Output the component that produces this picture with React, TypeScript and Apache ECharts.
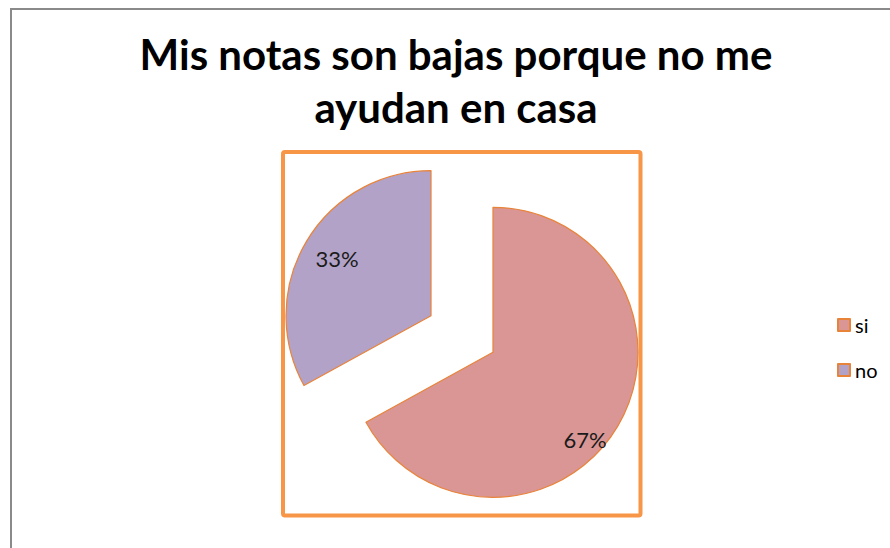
import React, { useEffect, useRef } from "react";
import * as echarts from "echarts";

const TITLE = "Mis notas son bajas porque no me\nayudan en casa";
const categories = ["si", "no"];
const values = [67, 33];
const colors = ["#D99694", "#B3A2C7"];
// label nudges (px) relative to default inside position
const labelNudges = [
  [27, 49],
  [-29, -19],
];

export default function App() {
  const ref = useRef<HTMLDivElement>(null);
  useEffect(() => {
    document.body.style.margin = "0";
    const chart = echarts.init(ref.current!, null, { renderer: "svg" });
    chart.setOption({
      animation: false,
      backgroundColor: "#ffffff",
      title: {
        text: TITLE,
        left: 456,
        textAlign: "center",
        top: 27,
        padding: 0,
        textStyle: {
          fontFamily: "Lato",
          fontWeight: "bold",
          fontSize: 42,
          lineHeight: 53,
          color: "#000000",
        },
      },
      legend: {
        orient: "vertical",
        left: 832,
        top: 310,
        itemWidth: 12,
        itemHeight: 12,
        itemGap: 25,
        icon: "rect",
        textStyle: { fontFamily: "Lato", fontSize: 20, color: "#000000" },
        data: categories,
      },
      graphic: [
        {
          type: "rect",
          shape: { x: 11, y: 9, width: 900, height: 560 },
          style: { fill: "none", stroke: "#8a8a8a", lineWidth: 2 },
          silent: true,
        },
        {
          type: "rect",
          shape: { x: 283, y: 152, width: 357.5, height: 363.5, r: 2 },
          style: { fill: "none", stroke: "#F79646", lineWidth: 4 },
          silent: true,
        },
      ],
      series: [
        {
          type: "pie",
          center: [462, 334],
          radius: [0, 145],
          startAngle: 90,
          clockwise: true,
          selectedMode: "multiple",
          selectedOffset: 36,
          emphasis: { disabled: true },
          itemStyle: { borderColor: "#E8833A", borderWidth: 1.2 },
          label: {
            show: true,
            position: "inside",
            formatter: "{d}%",
            fontFamily: "Lato",
            fontSize: 22,
            color: "#1a1a1a",
          },
          labelLayout: (p: any) => ({
            dx: labelNudges[p.dataIndex][0],
            dy: labelNudges[p.dataIndex][1],
          }),
          labelLine: { show: false },
          data: categories.map((c, i) => ({
            name: c,
            value: values[i],
            selected: true,
            itemStyle: { color: colors[i] },
          })),
        },
      ],
    });
    return () => chart.dispose();
  }, []);
  return (
    <div
      ref={ref}
      style={{ position: "absolute", left: 0, top: 0, width: 890, height: 548 }}
    />
  );
}
